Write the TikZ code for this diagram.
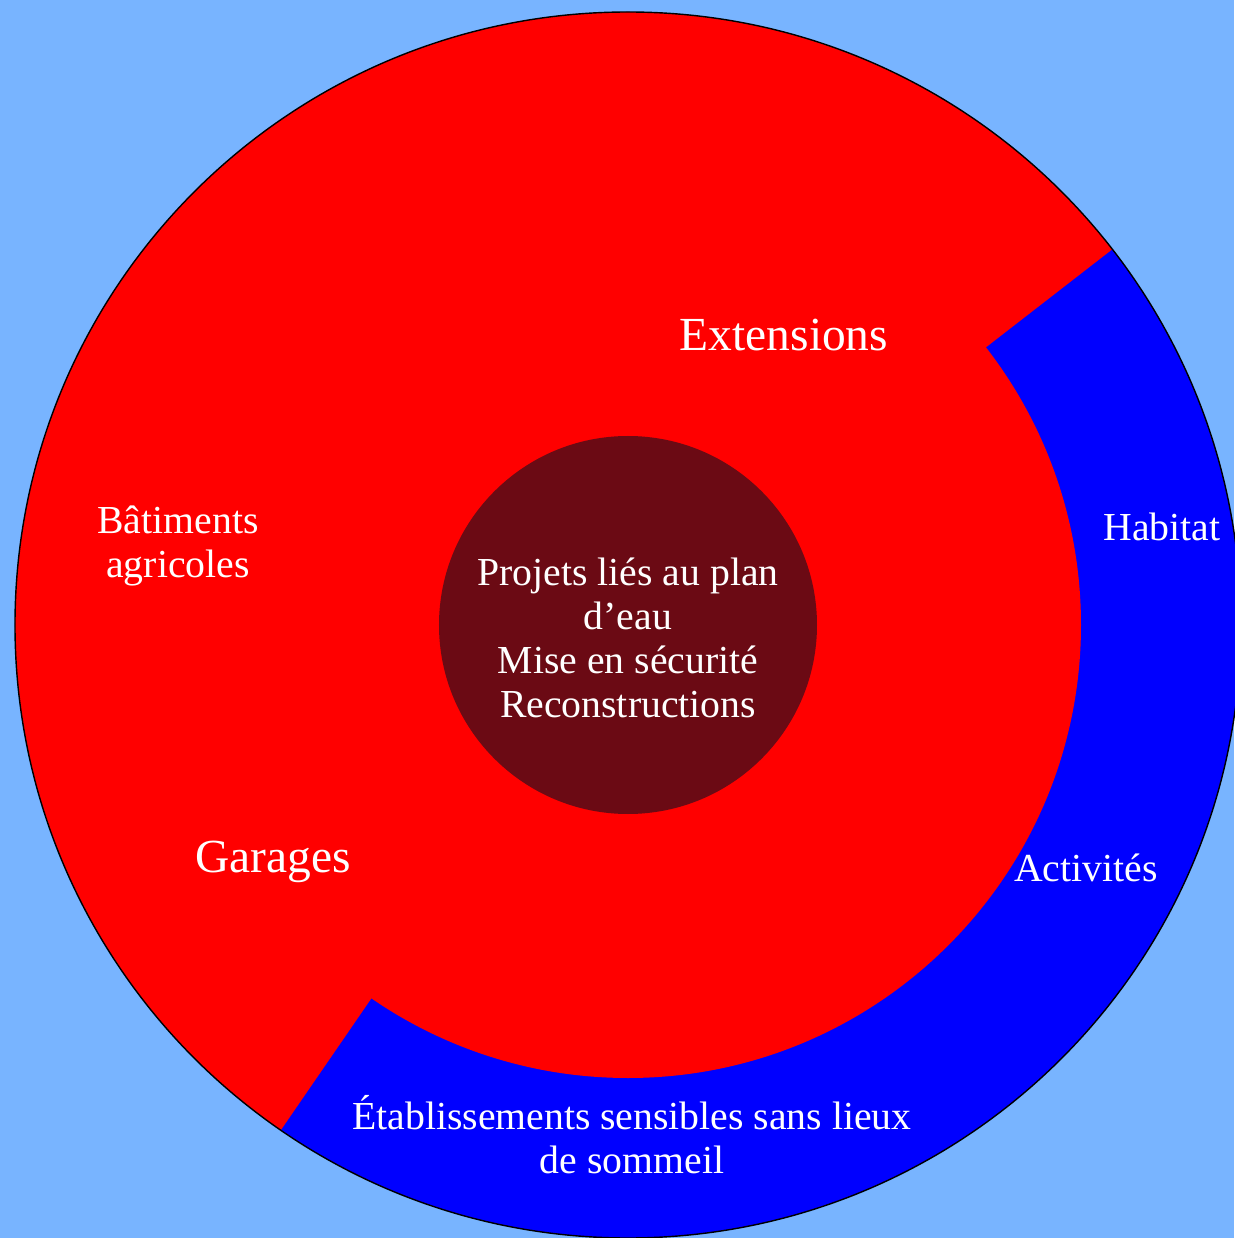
\documentclass[tikz,border=0pt]{standalone}
\usepackage{fontspec}
\setmainfont{Liberation Serif}
\usepackage{tikz}
\usetikzlibrary{positioning}
\definecolor{skyback}{RGB}{120,180,255}
\definecolor{corered}{RGB}{107,10,20}
\tikzset{every picture/.style={thin}}
\tikzset{zone label/.style={text=white,align=center,font=\fontsize{11.3}{12.5}\selectfont}}
\tikzset{big label/.style={zone label,font=\fontsize{13.5}{15}\selectfont}}

\begin{document}
\begin{tikzpicture}
      \useasboundingbox (-6.28,-6.13) rectangle (6.06,6.25);
      \fill [skyback] (-6.28,-6.13) rectangle (6.06,6.25);
      \fill [blue] (0,0) circle (6.13);
      \fill [red] (0,0) -- (37.8:6.13) arc (37.8:235.5:6.13) -- cycle;
      \fill [red] (0,0) circle (4.53);
      \draw (0,0) circle (6.13);
      \fill [corered] (0,0) circle (1.89);
      \node[zone label] (centre) at (0,-0.13) {Projets liés au plan\\d’eau\\Mise en sécurité\\Reconstructions};
      \node[big label] (ext) at (1.56,2.90) {Extensions};
      \node[big label] (gar) at (-3.55,-2.37) {Garages};
      \node[zone label] (agri) at (-4.50,0.79) {Bâtiments\\agricoles};
      \node[zone label] (hab) at (5.34,0.98) {Habitat};
      \node[zone label] (act) at (4.58,-2.43) {Activités};
      \node[zone label] (etab) at (0.04,-5.10) {Établissements sensibles sans lieux\\de sommeil};
    \end{tikzpicture}
\end{document}
